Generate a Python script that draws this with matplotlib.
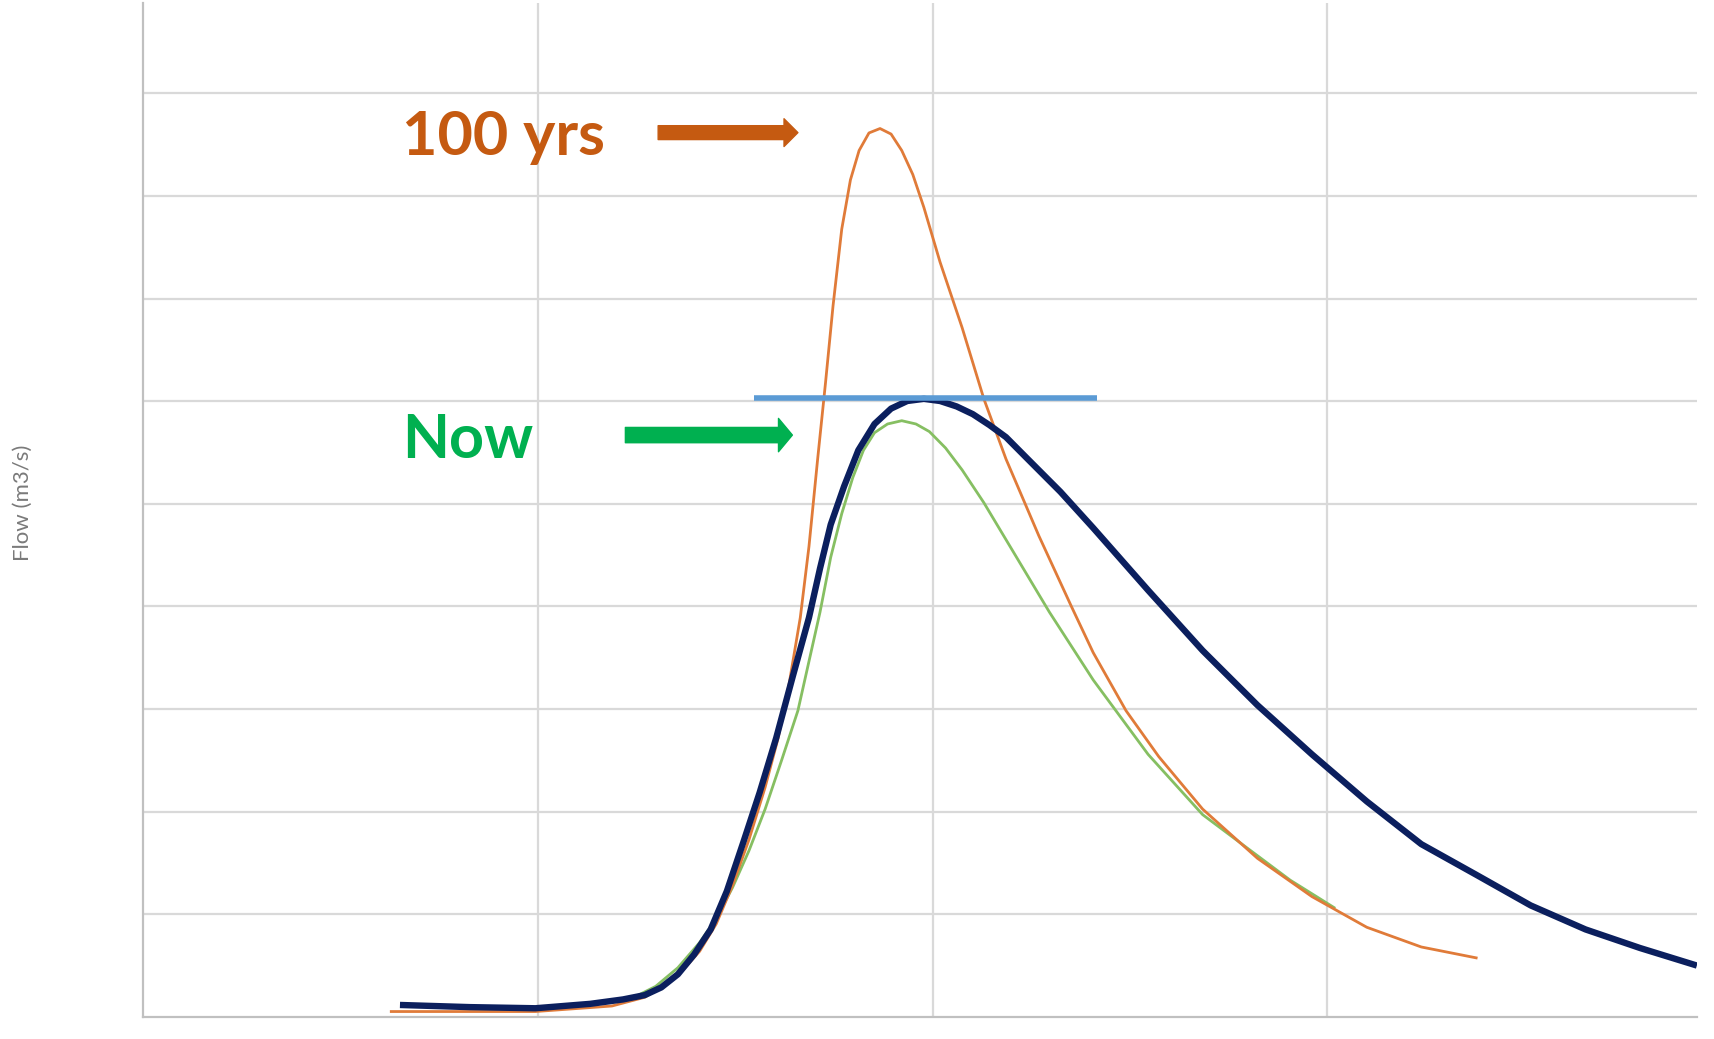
import numpy as np
import matplotlib.pyplot as plt
from matplotlib.patches import FancyArrowPatch

# Hydrograph values (x in grid units, flow in grid units)
now_future_x = [0.651, 0.828, 0.994, 1.133, 1.216, 1.271, 1.313, 1.355, 1.396, 1.438,
                1.479, 1.521, 1.562, 1.604, 1.645, 1.687, 1.715, 1.742, 1.776, 1.812,
                1.853, 1.895, 1.936, 1.978, 2.019, 2.061, 2.102, 2.144, 2.186, 2.241,
                2.324, 2.407, 2.546, 2.684, 2.823, 2.961, 3.100, 3.238, 3.377, 3.515,
                3.654, 3.792, 3.936]
now_future_y = [0.117, 0.096, 0.085, 0.128, 0.171, 0.213, 0.288, 0.416, 0.608, 0.853,
                1.226, 1.706, 2.186, 2.719, 3.305, 3.891, 4.371, 4.797, 5.171, 5.522,
                5.778, 5.928, 6.002, 6.023, 6.002, 5.949, 5.874, 5.768, 5.650, 5.437,
                5.117, 4.765, 4.158, 3.571, 3.038, 2.559, 2.100, 1.684, 1.386, 1.087,
                0.853, 0.672, 0.501]

yrs100_x = [0.629, 0.994, 1.188, 1.271, 1.327, 1.368, 1.410, 1.452, 1.493, 1.535,
            1.576, 1.609, 1.637, 1.665, 1.687, 1.709, 1.729, 1.748, 1.770, 1.792,
            1.814, 1.839, 1.867, 1.895, 1.922, 1.950, 1.978, 2.019, 2.075, 2.130,
            2.186, 2.269, 2.352, 2.407, 2.490, 2.573, 2.684, 2.823, 2.961, 3.100,
            3.238, 3.377]
yrs100_y = [0.053, 0.053, 0.107, 0.192, 0.320, 0.458, 0.640, 0.906, 1.279, 1.727,
            2.239, 2.719, 3.252, 3.891, 4.584, 5.437, 6.183, 6.930, 7.676, 8.156,
            8.443, 8.614, 8.657, 8.603, 8.443, 8.209, 7.889, 7.356, 6.716, 6.023,
            5.437, 4.691, 3.998, 3.550, 2.985, 2.537, 2.026, 1.546, 1.173, 0.874,
            0.682, 0.576]

now_x = [1.244, 1.299, 1.355, 1.410, 1.452, 1.493, 1.535, 1.576, 1.618, 1.659,
         1.687, 1.715, 1.742, 1.770, 1.798, 1.825, 1.853, 1.886, 1.922, 1.958,
         1.992, 2.033, 2.075, 2.130, 2.213, 2.296, 2.407, 2.546, 2.684, 2.795,
         2.906, 3.017]
now_y = [0.192, 0.299, 0.480, 0.725, 0.959, 1.258, 1.620, 2.026, 2.505, 2.985,
         3.465, 3.945, 4.478, 4.904, 5.256, 5.522, 5.693, 5.778, 5.810, 5.778,
         5.704, 5.544, 5.330, 5.011, 4.478, 3.945, 3.284, 2.559, 1.972, 1.652,
         1.333, 1.066]

cap_x = [1.548, 2.416]
cap_y = [6.03, 6.03]

fig = plt.figure(figsize=(17.14, 10.39), dpi=100)
ax = fig.add_axes([0.0834, 0.0212, 0.9066, 0.9759])

ax.set_xlim(0, 3.936)
ax.set_ylim(0, 9.88)
ax.set_xticks([1, 2, 3])
ax.set_yticks(np.arange(1, 10))
ax.tick_params(length=0, labelbottom=False, labelleft=False)
ax.grid(True, color='#d9d9d9', linewidth=1.6)
ax.set_axisbelow(True)
for s in ['top', 'right']:
    ax.spines[s].set_visible(False)
for s in ['left', 'bottom']:
    ax.spines[s].set_color('#c0c0c0')
    ax.spines[s].set_linewidth(1.6)

ax.plot(now_x, now_y, color='#86bf62', linewidth=2.0, solid_joinstyle='round')
ax.plot(yrs100_x, yrs100_y, color='#e07b39', linewidth=2.0, solid_joinstyle='round')
ax.plot(now_future_x, now_future_y, color='#0b1f5e', linewidth=4.6,
        solid_joinstyle='round', solid_capstyle='butt')
ax.plot(cap_x, cap_y, color='#5b9bd5', linewidth=4.0, solid_capstyle='butt')

# annotations
ax.text(0.657, 8.40, '100 yrs', color='#c55a11', fontsize=44, fontweight='bold',
        family='Lato', va='baseline', ha='left')
ax.text(0.657, 5.45, 'Now', color='#00b050', fontsize=44, fontweight='bold',
        family='Lato', va='baseline', ha='left')

ax.add_patch(FancyArrowPatch((1.305, 8.617), (1.659, 8.617),
                             arrowstyle='simple,head_length=10,head_width=20,tail_width=10',
                             mutation_scale=1, color='#c55a11', shrinkA=0, shrinkB=0))
ax.add_patch(FancyArrowPatch((1.222, 5.67), (1.645, 5.67),
                             arrowstyle='simple,head_length=10,head_width=24,tail_width=11',
                             mutation_scale=1, color='#00b050', shrinkA=0, shrinkB=0))

fig.text(0.0134, 0.516, 'Flow (m3/s)', rotation=90, color='#7a7a7a', fontsize=16,
         family='Lato', ha='center', va='center')

fig.savefig('out.png', dpi=100)
